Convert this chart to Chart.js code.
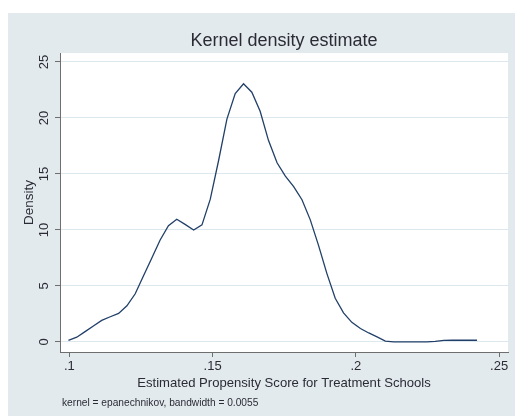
<!DOCTYPE html>
<html>
<head>
<meta charset="utf-8">
<title>Kernel density estimate</title>
<script src="https://cdn.jsdelivr.net/npm/chart.js@4.4.1/dist/chart.umd.min.js"></script>
<style>
  html, body { margin: 0; padding: 0; background: #ffffff; }
  #kd { display: block; }
</style>
</head>
<body>
<canvas id="kd" width="515" height="417"></canvas>
<script>
// Evaluation grid of the estimated propensity score (50 points)
const scoreGrid = [
  0.0997, 0.1026, 0.1055, 0.1084, 0.1113, 0.1143, 0.1172, 0.1201, 0.1230, 0.1259,
  0.1288, 0.1317, 0.1346, 0.1375, 0.1404, 0.1434, 0.1463, 0.1492, 0.1521, 0.1550,
  0.1579, 0.1608, 0.1637, 0.1666, 0.1695, 0.1725, 0.1754, 0.1783, 0.1812, 0.1841,
  0.1870, 0.1899, 0.1928, 0.1957, 0.1986, 0.2016, 0.2045, 0.2074, 0.2103, 0.2132,
  0.2161, 0.2190, 0.2219, 0.2248, 0.2277, 0.2307, 0.2336, 0.2365, 0.2394, 0.2423
];

// Estimated density at each grid point
const densityValues = [
  0.14, 0.42, 0.92, 1.42, 1.92, 2.25, 2.55, 3.23, 4.30, 5.90,
  7.50, 9.10, 10.38, 10.95, 10.50, 10.00, 10.45, 12.75, 16.20, 19.90,
  22.17, 23.05, 22.30, 20.60, 18.00, 16.00, 14.80, 13.86, 12.70, 10.90,
  8.60, 6.10, 3.90, 2.60, 1.75, 1.20, 0.80, 0.45, 0.08, 0.00,
  0.00, 0.00, 0.00, 0.00, 0.05, 0.13, 0.15, 0.15, 0.15, 0.15
];

// Axis ticks
const xTickValues = [0.1, 0.15, 0.2, 0.25];
const xTickLabels = ['.1', '.15', '.2', '.25'];
const yTickValues = [0, 5, 10, 15, 20, 25];
const yTickLabels = ['0', '5', '10', '15', '20', '25'];

// Texts
const chartTitle = 'Kernel density estimate';
const xTitle = 'Estimated Propensity Score for Treatment Schools';
const yTitle = 'Density';
const noteText = 'kernel = epanechnikov, bandwidth = 0.0055';

const FONT = '"Liberation Sans", Arial, Helvetica, sans-serif';
const TEXT_COLOR = '#2b2b36';
const AXIS_COLOR = '#6e6e6e';
const PANEL_COLOR = '#e3eaee';
const GRID_COLOR = '#dce7ee';
const LINE_COLOR = '#213f68';

const points = scoreGrid.map((x, i) => ({ x: x, y: densityValues[i] }));

// Backgrounds: outer panel and white plot region
const backdrop = {
  id: 'backdrop',
  beforeDraw(chart) {
    const { ctx, chartArea: a } = chart;
    ctx.save();
    ctx.fillStyle = '#ffffff';
    ctx.fillRect(0, 0, chart.width, chart.height);
    ctx.fillStyle = PANEL_COLOR;
    ctx.fillRect(8, 13, chart.width - 8, 403);
    ctx.fillStyle = '#ffffff';
    ctx.fillRect(a.left, a.top, a.right - a.left, a.bottom - a.top);
    ctx.restore();
  }
};

// Rotated y tick labels, titles and note
const annotations = {
  id: 'annotations',
  afterDraw(chart) {
    const { ctx, chartArea: a } = chart;
    const ys = chart.scales.y;
    ctx.save();
    ctx.fillStyle = TEXT_COLOR;

    // y tick labels, written vertically
    ctx.font = '13px ' + FONT;
    ctx.textAlign = 'center';
    ctx.textBaseline = 'middle';
    yTickValues.forEach((v, i) => {
      const py = ys.getPixelForValue(v);
      ctx.save();
      ctx.translate(44, py);
      ctx.rotate(-Math.PI / 2);
      ctx.fillText(yTickLabels[i], 0, 0);
      ctx.restore();
    });

    // y axis title
    ctx.save();
    ctx.font = '13.5px ' + FONT;
    ctx.translate(29, (a.top + a.bottom) / 2);
    ctx.rotate(-Math.PI / 2);
    ctx.fillText(yTitle, 0, 0);
    ctx.restore();

    // chart title
    ctx.font = '18px ' + FONT;
    ctx.textBaseline = 'alphabetic';
    ctx.fillText(chartTitle, (a.left + a.right) / 2, 46);

    // x axis title
    ctx.font = '13.1px ' + FONT;
    ctx.fillText(xTitle, (a.left + a.right) / 2, 387);

    // note
    ctx.font = '10.2px ' + FONT;
    ctx.textAlign = 'left';
    ctx.fillText(noteText, 62, 406);
    ctx.restore();
  }
};

new Chart(document.getElementById('kd'), {
  type: 'line',
  data: {
    datasets: [{
      data: points,
      borderColor: LINE_COLOR,
      borderWidth: 1.3,
      pointRadius: 0,
      tension: 0,
      fill: false
    }]
  },
  options: {
    responsive: false,
    animation: false,
    devicePixelRatio: 1,
    layout: { padding: { left: 0, top: 53, right: 7, bottom: 0 } },
    plugins: {
      legend: { display: false },
      title: { display: false },
      tooltip: { enabled: false }
    },
    scales: {
      x: {
        type: 'linear',
        min: 0.09675,
        max: 0.2531,
        afterBuildTicks(scale) {
          scale.ticks = xTickValues.map(v => ({ value: v }));
        },
        afterFit(scale) { scale.height = 65; },
        grid: {
          drawOnChartArea: false,
          drawTicks: true,
          tickLength: 5,
          tickColor: AXIS_COLOR,
          tickWidth: 1
        },
        border: { display: true, color: AXIS_COLOR, width: 1 },
        ticks: {
          padding: 2,
          color: TEXT_COLOR,
          font: { family: FONT, size: 13 },
          maxRotation: 0,
          minRotation: 0,
          callback(value) {
            const i = xTickValues.findIndex(v => Math.abs(v - value) < 1e-9);
            return i >= 0 ? xTickLabels[i] : '';
          }
        }
      },
      y: {
        type: 'linear',
        min: -0.9,
        max: 25.8,
        afterBuildTicks(scale) {
          scale.ticks = yTickValues.map(v => ({ value: v }));
        },
        afterFit(scale) { scale.width = 60; },
        grid: {
          drawOnChartArea: true,
          color: GRID_COLOR,
          lineWidth: 1,
          drawTicks: true,
          tickLength: 5,
          tickColor: AXIS_COLOR,
          tickWidth: 1
        },
        border: { display: true, color: AXIS_COLOR, width: 1 },
        ticks: { display: false }
      }
    }
  },
  plugins: [backdrop, annotations]
});
</script>
</body>
</html>
